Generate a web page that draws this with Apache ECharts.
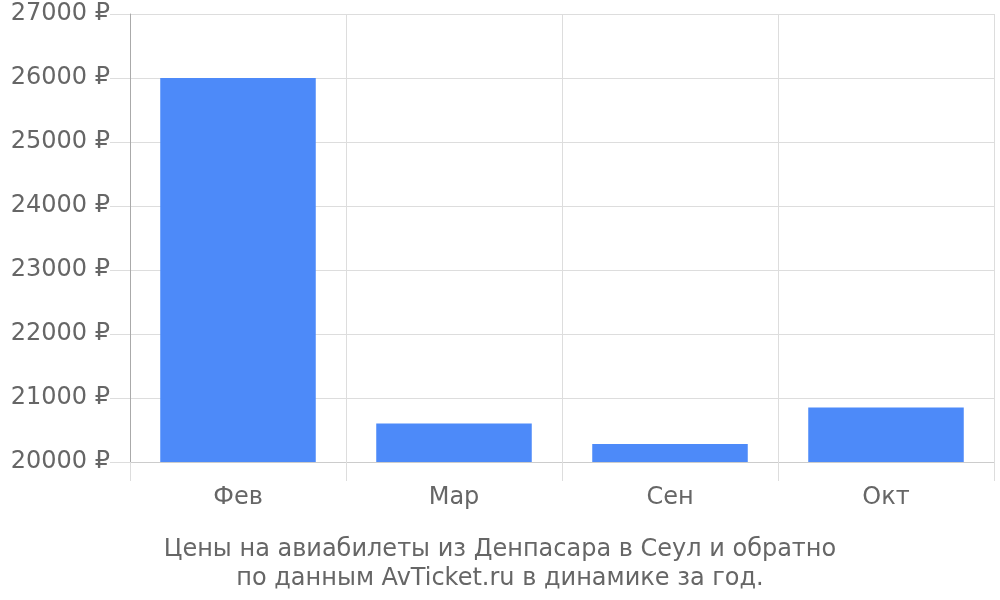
<!DOCTYPE html>
<html><head><meta charset="utf-8">
<script src="https://cdn.jsdelivr.net/npm/echarts@6/dist/echarts.min.js"></script>
<style>html,body{margin:0;padding:0;background:#fff}#c{width:1000px;height:600px}</style>
</head><body><div id="c"></div>
<script>
const categories = ['Фев', 'Мар', 'Сен', 'Окт'];
const prices = [26000, 20600, 20280, 20850];
const yMin = 20000, yMax = 27000, yStep = 1000;
const titleLines = ['Цены на авиабилеты из Денпасара в Сеул и обратно', 'по данным AvTicket.ru в динамике за год.'];

const chart = echarts.init(document.getElementById('c'));
const font = 'DejaVu Sans';
chart.setOption({
  animation: false,
  title: {
    text: titleLines.join('\n'),
    left: 'center', bottom: 2,
    textStyle: { fontFamily: font, fontSize: 24, fontWeight: 'normal', color: '#666', lineHeight: 29 }
  },
  grid: { left: 130, right: 6, top: 14, bottom: 138 },
  xAxis: {
    type: 'category', data: categories,
    axisLine: { lineStyle: { color: '#ccc', width: 1 } },
    axisTick: { show: true, length: 19, lineStyle: { color: '#ddd' } },
    axisLabel: { fontFamily: font, fontSize: 24, color: '#666', margin: 24 },
    splitLine: { show: true, lineStyle: { color: '#ddd' } }
  },
  yAxis: {
    type: 'value', min: yMin, max: yMax, interval: yStep,
    axisLine: { show: true, lineStyle: { color: '#aaa' } },
    axisTick: { show: true, length: 20, lineStyle: { color: '#ddd' } },
    axisLabel: { fontFamily: font, fontSize: 24, color: '#666', margin: 20, formatter: v => v + ' ₽' },
    splitLine: { show: true, lineStyle: { color: '#ddd' } }
  },
  series: [{
    type: 'bar', data: prices, barWidth: '72%',
    itemStyle: { color: '#4d8af9' }
  }]
});
</script></body></html>
